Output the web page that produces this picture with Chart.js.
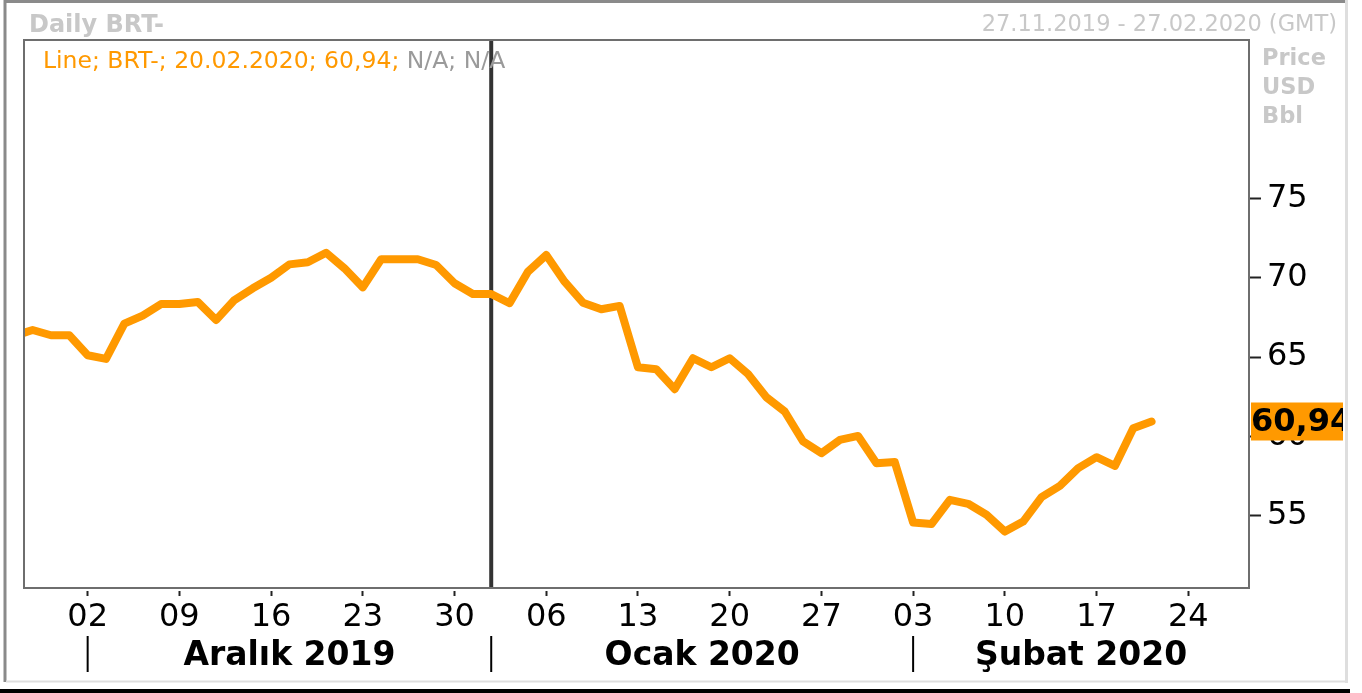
<!DOCTYPE html>
<html>
<head>
<meta charset="utf-8">
<title>Daily BRT-</title>
<script src="https://cdn.jsdelivr.net/npm/chart.js@4.4.1/dist/chart.umd.min.js"></script>
<style>
  html, body { margin: 0; padding: 0; background: #fff; }
  #wrap { width: 1362px; height: 693px; }
</style>
</head>
<body>
<div id="wrap"><canvas id="brtChart" width="1362" height="693"></canvas></div>
<script>
// --- data (trading days, weekends skipped) ---
const tradeDays = [
  '2019-11-26', '2019-11-27', '2019-11-28', '2019-11-29',
  '2019-12-02', '2019-12-03', '2019-12-04', '2019-12-05', '2019-12-06',
  '2019-12-09', '2019-12-10', '2019-12-11', '2019-12-12', '2019-12-13',
  '2019-12-16', '2019-12-17', '2019-12-18', '2019-12-19', '2019-12-20',
  '2019-12-23', '2019-12-24', '2019-12-25', '2019-12-26', '2019-12-27',
  '2019-12-30', '2019-12-31', '2020-01-01', '2020-01-02', '2020-01-03',
  '2020-01-06', '2020-01-07', '2020-01-08', '2020-01-09', '2020-01-10',
  '2020-01-13', '2020-01-14', '2020-01-15', '2020-01-16', '2020-01-17',
  '2020-01-20', '2020-01-21', '2020-01-22', '2020-01-23', '2020-01-24',
  '2020-01-27', '2020-01-28', '2020-01-29', '2020-01-30', '2020-01-31',
  '2020-02-03', '2020-02-04', '2020-02-05', '2020-02-06', '2020-02-07',
  '2020-02-10', '2020-02-11', '2020-02-12', '2020-02-13', '2020-02-14',
  '2020-02-17', '2020-02-18', '2020-02-19', '2020-02-20'
];
const brtPrice = [
  66.35, 66.71, 66.38, 66.38,
  65.12, 64.89, 67.11, 67.62, 68.35,
  68.35, 68.48, 67.34, 68.60, 69.34,
  70.00, 70.85, 70.98, 71.58, 70.60,
  69.40, 71.17, 71.17, 71.17, 70.81,
  69.66, 68.98, 68.98, 68.40, 70.39,
  71.44, 69.76, 68.43, 68.02, 68.23,
  64.36, 64.24, 62.98, 64.93, 64.36,
  64.93, 63.94, 62.47, 61.57, 59.68,
  58.94, 59.78, 60.03, 58.31, 58.38,
  54.57, 54.47, 56.00, 55.75, 55.06,
  54.00, 54.63, 56.17, 56.88, 58.00,
  58.69, 58.14, 60.52, 60.94
];

// weekly ticks (Mondays) and their labels
const weekTicks = ['2019-12-02', '2019-12-09', '2019-12-16', '2019-12-23', '2019-12-30',
  '2020-01-06', '2020-01-13', '2020-01-20', '2020-01-27',
  '2020-02-03', '2020-02-10', '2020-02-17', '2020-02-24'];
const weekLabels = ['02', '09', '16', '23', '30', '06', '13', '20', '27', '03', '10', '17', '24'];

// month band under the axis
const monthStarts = ['2019-12-02', '2020-01-01', '2020-02-03'];
const monthLabels = ['Aralık 2019', 'Ocak 2020', 'Şubat 2020'];

const priceTicks = [55, 60, 65, 70, 75];
const rangeText = '27.11.2019 - 27.02.2020 (GMT)';
const unitLines = ['Price', 'USD', 'Bbl'];

// count weekdays from the first trading day -> x index
function dayIndex(str) {
  const start = new Date(tradeDays[0] + 'T00:00:00Z');
  const end = new Date(str + 'T00:00:00Z');
  let n = 0;
  for (let d = new Date(start); d < end; d.setUTCDate(d.getUTCDate() + 1)) {
    const wd = d.getUTCDay();
    if (wd !== 0 && wd !== 6) n++;
  }
  return n;
}

const points = tradeDays.map((d, i) => ({ x: dayIndex(d), y: brtPrice[i] }));
const lastIdx = brtPrice.length - 1;
const lastVal = brtPrice[lastIdx];
const lastDate = tradeDays[lastIdx].split('-').reverse().join('.');
const fmt = v => v.toFixed(2).replace('.', ',');

const ORANGE = '#FF9900';
const FONT = "'DejaVu Sans', Verdana, sans-serif";

// --- frame, month band, labels ---
const decoPlugin = {
  id: 'deco',
  beforeDraw(chart) {
    const c = chart.ctx;
    c.save();
    c.fillStyle = '#fff';
    c.fillRect(0, 0, chart.width, chart.height);
    // outer frame
    c.strokeStyle = '#8a8a8a';
    c.lineWidth = 3;
    c.beginPath();
    c.moveTo(5, 0); c.lineTo(5, 682);
    c.moveTo(4, 1.5); c.lineTo(1345, 1.5);
    c.stroke();
    c.strokeStyle = '#dedede';
    c.beginPath();
    c.moveTo(1346.5, 0); c.lineTo(1346.5, 683);
    c.stroke();
    c.lineWidth = 2;
    c.beginPath();
    c.moveTo(6, 681.5); c.lineTo(1346, 681.5);
    c.stroke();
    c.fillStyle = '#000';
    c.fillRect(0, 689, 1350, 4);

    // header texts
    c.fillStyle = '#c8c8c8';
    c.font = 'bold 24px ' + FONT;
    c.textBaseline = 'alphabetic';
    c.textAlign = 'left';
    c.fillText('Daily BRT-', 29, 32);
    c.font = '22.5px ' + FONT;
    c.textAlign = 'right';
    c.fillText(rangeText, 1337, 31);
    c.textAlign = 'left';
    c.font = 'bold 22.5px ' + FONT;
    unitLines.forEach((t, i) => c.fillText(t, 1262, 65 + i * 29));
    c.restore();
  },
  beforeDatasetsDraw(chart) {
    // year separator inside the plot
    const c = chart.ctx, a = chart.chartArea, x = chart.scales.x;
    const px = x.getPixelForValue(dayIndex('2020-01-01'));
    c.save();
    c.strokeStyle = '#333';
    c.lineWidth = 4;
    c.beginPath();
    c.moveTo(px, a.top); c.lineTo(px, a.bottom);
    c.stroke();
    c.restore();
  },
  afterDraw(chart) {
    const c = chart.ctx, a = chart.chartArea, x = chart.scales.x, y = chart.scales.y;
    c.save();
    // plot frame
    c.strokeStyle = '#6e6e6e';
    c.lineWidth = 2;
    c.strokeRect(a.left, a.top, a.right - a.left, a.bottom - a.top);

    // info line at top of plot
    c.font = '23.5px ' + FONT;
    c.textAlign = 'left';
    c.textBaseline = 'alphabetic';
    const part1 = 'Line; BRT-; ' + lastDate + '; ' + fmt(lastVal) + '; ';
    c.fillStyle = ORANGE;
    c.fillText(part1, 43, 68);
    c.fillStyle = '#9a9a9a';
    c.fillText('N/A; N/A', 43 + c.measureText(part1).width, 68);

    // month band
    const starts = monthStarts.map(d => x.getPixelForValue(dayIndex(d)));
    c.strokeStyle = '#000';
    c.lineWidth = 2;
    starts.forEach(px => {
      c.beginPath();
      c.moveTo(px, 636); c.lineTo(px, 672);
      c.stroke();
    });
    c.fillStyle = '#000';
    c.font = 'bold 33px ' + FONT;
    c.textAlign = 'center';
    c.textBaseline = 'middle';
    monthLabels.forEach((t, i) => {
      const end = i < starts.length - 1 ? starts[i + 1] : a.right;
      c.fillText(t, (starts[i] + end) / 2, 656);
    });

    // last value tag on the price axis
    const ty = y.getPixelForValue(lastVal);
    c.beginPath();
    c.rect(a.right + 2, ty - 19, 1343 - a.right - 2, 38);
    c.fillStyle = ORANGE;
    c.fill();
    c.clip();
    c.fillStyle = '#000';
    c.font = 'bold 32px ' + FONT;
    c.textAlign = 'left';
    c.textBaseline = 'middle';
    c.fillText(fmt(lastVal), a.right + 2, ty + 1);
    c.restore();
  }
};

const ctx = document.getElementById('brtChart').getContext('2d');
new Chart(ctx, {
  type: 'line',
  data: {
    datasets: [{
      data: points,
      borderColor: ORANGE,
      borderWidth: 8,
      pointRadius: 0,
      tension: 0,
      borderJoinStyle: 'round',
      borderCapStyle: 'round',
      clip: 0
    }]
  },
  options: {
    responsive: false,
    animation: false,
    events: [],
    layout: { padding: { left: 24, top: 40, right: 0, bottom: 0 } },
    plugins: {
      legend: { display: false },
      tooltip: { enabled: false }
    },
    scales: {
      x: {
        type: 'linear',
        position: 'bottom',
        min: 0.53,
        max: 67.31,
        afterFit(s) { s.height = 105; },
        afterBuildTicks(s) { s.ticks = weekTicks.map(d => ({ value: dayIndex(d) })); },
        ticks: {
          autoSkip: false,
          maxRotation: 0,
          padding: 2,
          color: '#000',
          font: { family: FONT, size: 32 },
          callback: (v, i) => weekLabels[i]
        },
        grid: {
          drawOnChartArea: false,
          tickLength: 8,
          tickWidth: 2,
          tickColor: '#222',
          tickBorderDash: [0, 3, 5, 60]
        },
        border: { display: false }
      },
      y: {
        position: 'right',
        min: 50.44,
        max: 85,
        afterFit(s) { s.width = 113; },
        afterBuildTicks(s) { s.ticks = priceTicks.map(v => ({ value: v })); },
        ticks: {
          padding: 6,
          color: '#000',
          font: { family: FONT, size: 32 },
          callback: v => String(v)
        },
        grid: {
          drawOnChartArea: false,
          tickLength: 12,
          tickWidth: 2,
          tickColor: '#222'
        },
        border: { display: false }
      }
    }
  },
  plugins: [decoPlugin]
});
</script>
</body>
</html>
